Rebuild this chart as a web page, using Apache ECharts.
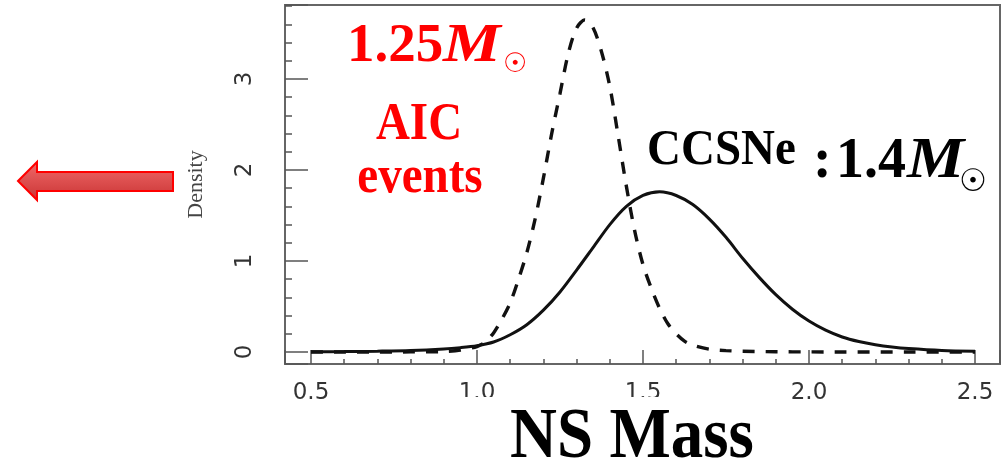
<!DOCTYPE html>
<html>
<head>
<meta charset="utf-8">
<script src="https://cdn.jsdelivr.net/npm/echarts@6/dist/echarts.min.js"></script>
<style>
  html, body { margin: 0; padding: 0; background: #ffffff; }
  #chart { width: 1004px; height: 467px; }
</style>
</head>
<body>
<div id="chart"></div>
<script>
// Neutron-star mass density curves
// AIC channel (dashed)
const aicMass = [0.50, 0.60, 0.70, 0.80, 0.90, 0.95, 1.000, 1.025, 1.050, 1.075, 1.100, 1.125, 1.150, 1.175, 1.200, 1.225, 1.250, 1.275, 1.300, 1.325, 1.350, 1.375, 1.400, 1.425, 1.450, 1.475, 1.500, 1.525, 1.550, 1.575, 1.600, 1.625, 1.650, 1.700, 1.750, 1.80, 1.90, 2.00, 2.10, 2.30, 2.50];
const aicDensity = [0, 0, 0, 0.001, 0.005, 0.02, 0.06, 0.11, 0.21, 0.36, 0.54, 0.80, 1.09, 1.46, 1.91, 2.40, 2.84, 3.28, 3.56, 3.65, 3.56, 3.30, 2.92, 2.38, 1.82, 1.33, 0.96, 0.70, 0.48, 0.31, 0.20, 0.12, 0.075, 0.03, 0.015, 0.008, 0.003, 0.001, 0, 0, 0];

// Core-collapse SNe channel (solid)
const ccsnMass = [0.50, 0.60, 0.70, 0.80, 0.90, 0.95, 1.00, 1.05, 1.10, 1.15, 1.20, 1.25, 1.30, 1.35, 1.40, 1.45, 1.50, 1.55, 1.60, 1.65, 1.70, 1.75, 1.80, 1.85, 1.90, 1.95, 2.00, 2.05, 2.10, 2.15, 2.20, 2.25, 2.30, 2.40, 2.50];
const ccsnDensity = [0.003, 0.005, 0.009, 0.016, 0.033, 0.048, 0.07, 0.11, 0.19, 0.30, 0.46, 0.66, 0.90, 1.15, 1.40, 1.60, 1.72, 1.76, 1.72, 1.62, 1.46, 1.26, 1.03, 0.82, 0.63, 0.47, 0.34, 0.24, 0.165, 0.115, 0.08, 0.055, 0.038, 0.017, 0.008];

// Axis ranges
const xRange = [0.4217, 2.5753];
const yRange = [-0.1319, 3.8132];

// Annotation texts
const aicMassText = ['1.25', 'M', '\u2609'];
const aicLabel = ['AIC', 'events'];
const ccsnLabel = 'CCSNe';
const ccsnMassText = [':', '1.4', 'M', '\u2609'];
const xTitle = 'NS Mass';
const yTitle = 'Density';

const zip = (xs, ys) => xs.map((x, i) => [x, ys[i]]);

const serif = '"Liberation Serif", "Times New Roman", serif';
const red = '#ff0000';

function txt(text, x, y, size, color, opts) {
  opts = opts || {};
  return {
    type: 'text',
    x: x, y: y,
    scaleX: opts.scaleX || 1,
    scaleY: opts.scaleY || 1,
    z: 60,
    style: {
      text: text,
      x: 0, y: 0,
      font: (opts.italic ? 'italic ' : '') + (opts.normal ? '' : 'bold ') + size + 'px ' + (opts.family || serif),
      fill: color,
      align: opts.align || 'left',
      textAlign: opts.align || 'left',
      verticalAlign: 'middle',
      textVerticalAlign: 'middle'
    }
  };
}

const chart = echarts.init(document.getElementById('chart'), null, { renderer: 'canvas' });

const axisGray = '#666666';
const tickFont = '"DejaVu Sans", sans-serif';

chart.setOption({
  animation: false,
  backgroundColor: '#ffffff',
  grid: {
    left: 285, right: 4, top: 5, bottom: 103,
    show: true, borderColor: axisGray, borderWidth: 2, backgroundColor: 'transparent'
  },
  xAxis: {
    type: 'value',
    min: xRange[0], max: xRange[1],
    splitLine: { show: false },
    axisLine: { show: true, onZero: false, lineStyle: { color: axisGray, width: 2 } },
    axisTick: { show: true, inside: true, length: 14, lineStyle: { color: '#555', width: 1.5 } },
    minorTick: { show: true, splitNumber: 5, length: 5, lineStyle: { color: '#555', width: 1.5 } },
    minorSplitLine: { show: false },
    axisLabel: {
      margin: 18,
      fontFamily: tickFont,
      fontSize: 23,
      color: '#333333',
      formatter: v => Math.abs(v * 2 - Math.round(v * 2)) < 1e-6 ? v.toFixed(1) : ''
    }
  },
  yAxis: {
    type: 'value',
    min: yRange[0], max: yRange[1],
    splitLine: { show: false },
    axisLine: { show: true, onZero: false, lineStyle: { color: axisGray, width: 2 } },
    axisTick: { show: true, inside: true, length: 23, lineStyle: { color: '#555', width: 1.5 } },
    minorTick: { show: true, splitNumber: 5, length: 7, lineStyle: { color: '#555', width: 1.5 } },
    minorSplitLine: { show: false },
    axisLabel: {
      rotate: 90,
      margin: 28,
      fontFamily: tickFont,
      fontSize: 23,
      color: '#333333',
      formatter: v => Math.abs(v - Math.round(v)) < 1e-6 ? String(Math.round(v)) : ''
    },
    name: yTitle,
    nameLocation: 'middle',
    nameRotate: 90,
    nameGap: 78,
    nameTextStyle: { fontFamily: serif, fontSize: 22, color: '#444' }
  },
  series: [
    {
      name: 'AIC',
      type: 'line',
      data: zip(aicMass, aicDensity),
      showSymbol: false,
      smooth: 0.3,
      lineStyle: { color: '#111', width: 3.4, type: [12, 11] },
      z: 3
    },
    {
      name: 'CCSNe',
      type: 'line',
      data: zip(ccsnMass, ccsnDensity),
      showSymbol: false,
      smooth: 0.3,
      lineStyle: { color: '#111', width: 3, type: 'solid' },
      z: 4
    }
  ],
  graphic: [
    // left-pointing block arrow
    {
      type: 'polygon',
      z: 60,
      shape: { points: [[18, 181], [37, 162], [37, 172], [173, 172], [173, 191], [37, 191], [37, 200]] },
      style: {
        fill: new echarts.graphic.LinearGradient(0, 0, 0, 1, [
          { offset: 0, color: '#f26a6a' },
          { offset: 1, color: '#c83434' }
        ]),
        stroke: red,
        lineWidth: 2
      }
    },
    // white box behind the x-axis title
    {
      type: 'rect', z: 55,
      shape: { x: 457, y: 397, width: 329, height: 70 },
      style: { fill: '#ffffff' }
    },
    txt(aicMassText[0], 347, 46.5, 55, red),
    txt(aicMassText[1], 443, 46.5, 55, red, { italic: true, scaleX: 1.18 }),
    txt(aicMassText[2], 515, 65, 27, red, { align: 'center', family: '"DejaVu Sans", sans-serif', normal: true }),
    txt(aicLabel[0], 419, 125.2, 47, red, { align: 'center', scaleY: 1.12 }),
    txt(aicLabel[1], 420, 178.2, 47, red, { align: 'center', scaleY: 1.12 }),
    txt(ccsnLabel, 647, 150.8, 47, '#000', { scaleY: 1.08 }),
    txt(ccsnMassText[0], 813, 162.1, 56, '#000'),
    txt(ccsnMassText[1], 836, 162.1, 56, '#000'),
    txt(ccsnMassText[2], 907, 162.1, 56, '#000', { italic: true, scaleX: 1.15 }),
    txt(ccsnMassText[3], 973, 183, 31, '#000', { align: 'center', family: '"DejaVu Sans", sans-serif', normal: true }),
    txt(xTitle, 632, 437.7, 65, '#000', { align: 'center', scaleY: 1.12 })
  ]
});
</script>
</body>
</html>
